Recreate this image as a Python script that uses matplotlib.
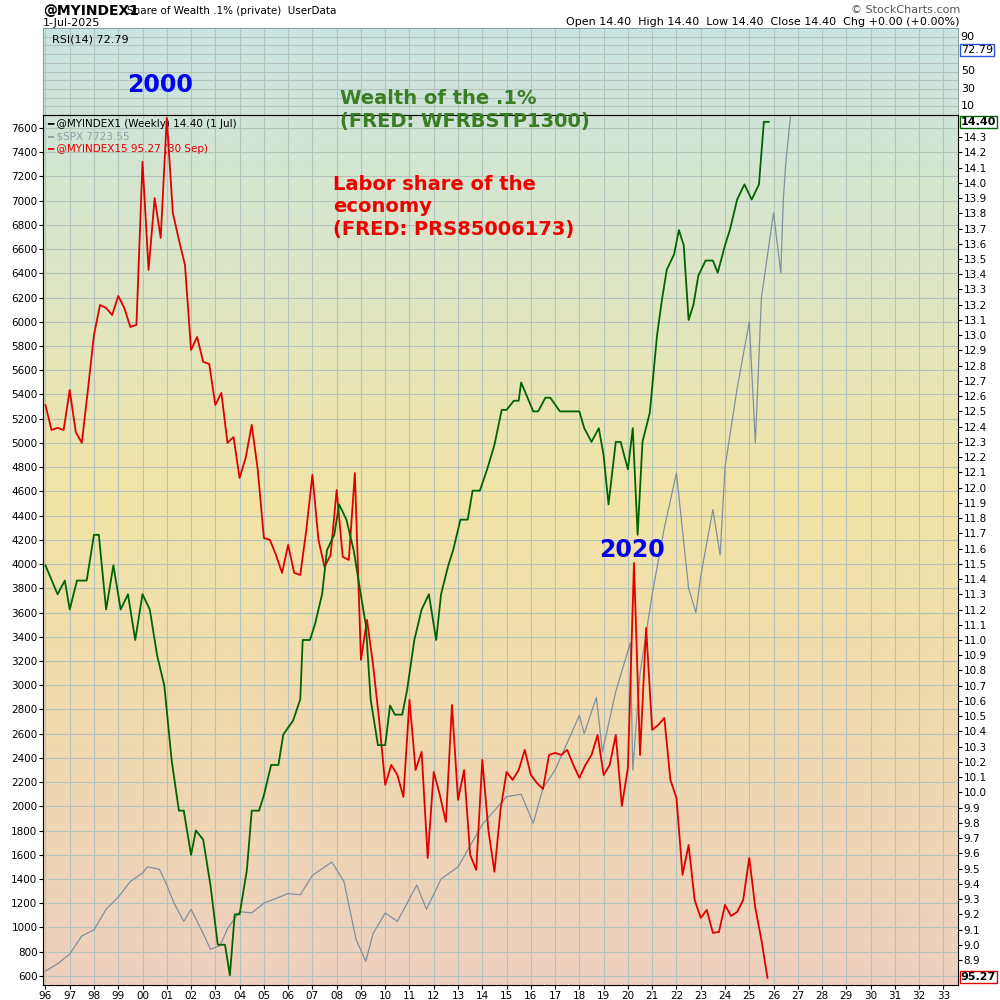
import matplotlib.pyplot as plt
import numpy as np
from matplotlib.colors import LinearSegmentedColormap

# Share of wealth held by top .1% (right axis, %)
wealth_t = [1996.0, 1996.5, 1996.8, 1997.0, 1997.3, 1997.7, 1998.0, 1998.2, 1998.5, 1998.8,
            1999.1, 1999.4, 1999.7, 2000.0, 2000.3, 2000.6, 2000.9, 2001.2, 2001.5, 2001.7,
            2002.0, 2002.2, 2002.5, 2002.8, 2003.1, 2003.4, 2003.6, 2003.8, 2004.0, 2004.3,
            2004.5, 2004.8, 2005.0, 2005.3, 2005.6, 2005.8, 2006.2, 2006.5, 2006.6, 2006.9,
            2007.1, 2007.4, 2007.6, 2007.9, 2008.1, 2008.4, 2008.7, 2008.9, 2009.2, 2009.4,
            2009.7, 2010.0, 2010.2, 2010.4, 2010.7, 2010.9, 2011.2, 2011.5, 2011.8, 2012.1,
            2012.3, 2012.6, 2012.8, 2013.1, 2013.4, 2013.6, 2013.9, 2014.2, 2014.5, 2014.8,
            2015.0, 2015.3, 2015.5, 2015.6, 2016.1, 2016.3, 2016.6, 2016.8, 2017.2, 2017.7,
            2018.0, 2018.2, 2018.5, 2018.8, 2019.0, 2019.2, 2019.5, 2019.7, 2020.0, 2020.2,
            2020.4, 2020.6, 2020.9, 2021.2, 2021.4, 2021.6, 2021.9, 2022.1, 2022.3, 2022.5,
            2022.7, 2022.9, 2023.2, 2023.5, 2023.7, 2024.0, 2024.2, 2024.5, 2024.8, 2025.1,
            2025.4, 2025.6, 2025.8]
wealth_v = [11.49, 11.30, 11.39, 11.20, 11.39, 11.39, 11.69, 11.69, 11.20, 11.49,
            11.20, 11.30, 11.00, 11.30, 11.20, 10.90, 10.70, 10.21, 9.88, 9.88,
            9.59, 9.75, 9.69, 9.39, 9.00, 9.00, 8.80, 9.20, 9.20, 9.49,
            9.88, 9.88, 9.98, 10.18, 10.18, 10.38, 10.47, 10.61, 11.00, 11.00,
            11.10, 11.30, 11.59, 11.69, 11.89, 11.79, 11.59, 11.39, 11.10, 10.61,
            10.31, 10.31, 10.57, 10.51, 10.51, 10.67, 11.00, 11.20, 11.30, 11.00,
            11.30, 11.49, 11.59, 11.79, 11.79, 11.98, 11.98, 12.12, 12.28, 12.51,
            12.51, 12.57, 12.57, 12.69, 12.50, 12.50, 12.59, 12.59, 12.50, 12.50,
            12.50, 12.39, 12.30, 12.39, 12.21, 11.89, 12.30, 12.30, 12.12, 12.39,
            11.69, 12.30, 12.49, 13.00, 13.23, 13.43, 13.53, 13.69, 13.59, 13.10,
            13.20, 13.39, 13.49, 13.49, 13.41, 13.59, 13.69, 13.89, 13.99, 13.89,
            13.99, 14.40, 14.40]

# S&P 500 (left axis)
spx_t = [1996.0, 1996.5, 1997.0, 1997.5, 1998.0, 1998.5, 1999.0, 1999.5, 2000.0, 2000.2,
         2000.7, 2001.0, 2001.3, 2001.7, 2002.0, 2002.5, 2002.8, 2003.2, 2003.5, 2004.0,
         2004.5, 2005.0, 2006.0, 2006.5, 2007.0, 2007.8, 2008.3, 2008.8, 2009.2, 2009.5,
         2010.0, 2010.5, 2011.3, 2011.7, 2012.3, 2013.0, 2014.0, 2015.0, 2015.6, 2016.1,
         2016.5, 2017.0, 2018.0, 2018.2, 2018.7, 2018.95, 2019.5, 2020.1, 2020.2, 2020.5,
         2021.0, 2021.5, 2022.0, 2022.5, 2022.8, 2023.0, 2023.5, 2023.8, 2024.0, 2024.5,
         2025.0, 2025.25, 2025.5, 2026.0, 2026.3, 2026.4, 2026.5, 2026.7]
spx_v = [640, 700, 780, 930, 980, 1150, 1250, 1380, 1450, 1500,
         1480, 1350, 1200, 1050, 1150, 950, 820, 850, 990, 1130,
         1120, 1200, 1280, 1270, 1430, 1540, 1380, 900, 720, 950,
         1120, 1050, 1350, 1150, 1400, 1500, 1850, 2080, 2100, 1860,
         2150, 2300, 2750, 2600, 2900, 2450, 2950, 3350, 2300, 3100,
         3750, 4300, 4750, 3800, 3600, 3900, 4450, 4075, 4800, 5450,
         6000, 5000, 6200, 6900, 6400, 7000, 7300, 7700]

# Labor share of the economy (quarterly, drawn on hidden axis with left scale)
labor_start = 1996.0
labor_v = [5313, 5107, 5124, 5107, 5437, 5090, 5000, 5437, 5891, 6139,
           6114, 6056, 6213, 6114, 5957, 5974, 7320, 6428, 7022, 6692,
           7683, 6898, 6676, 6469, 5768, 5875, 5669, 5652, 5313, 5413,
           5000, 5049, 4711, 4876, 5149, 4777, 4216, 4199, 4075, 3927,
           4158, 3927, 3910, 4282, 4736, 4199, 3976, 4075, 4612, 4059,
           4034, 4752, 3209, 3539, 3167, 2713, 2177, 2342, 2259, 2078,
           2878, 2300, 2449, 1574, 2284, 2094, 1871, 2837, 2053, 2300,
           1599, 1475, 2383, 1805, 1459, 1970, 2284, 2218, 2300, 2466,
           2259, 2193, 2143, 2424, 2441, 2424, 2466, 2342, 2235, 2342,
           2424, 2589, 2259, 2342, 2589, 2003, 2317, 4009, 2424, 3473,
           2631, 2672, 2730, 2218, 2069, 1434, 1681, 1227, 1079, 1145,
           955, 963, 1186, 1095, 1128, 1227, 1574, 1161, 897, 584]
labor_t = labor_start + 0.25 * np.arange(len(labor_v))

left_ticks = list(range(600, 7601, 200))
right_ticks = np.round(np.arange(8.9, 14.35, 0.1), 1)
year_ticks = list(range(1996, 2034))

fig = plt.figure(figsize=[10, 10], dpi=100)

# background gradient
bg = fig.add_axes([0, 0, 1, 1], zorder=-10)
cmap = LinearSegmentedColormap.from_list("bg", ["#c6e4e6", "#dbe6c8", "#f2e4a6", "#f0d8b0", "#eecfbf"])
bg.imshow(np.linspace(0, 1, 256)[:, None], aspect="auto", cmap=cmap, extent=[0, 1, 0, 1])
bg.set_xlim(0, 1); bg.set_ylim(0, 1)
bg.axis("off")
bg.add_patch(plt.Rectangle((0, 0.972), 1, 0.03, color="white"))
bg.add_patch(plt.Rectangle((0, 0), 0.043, 0.972, color="white"))
bg.add_patch(plt.Rectangle((0.958, 0), 0.05, 0.972, color="white"))
bg.add_patch(plt.Rectangle((0, 0), 1, 0.015, color="white"))

gridc = "#b4c4bc"

# RSI panel (empty grid)
rsi = fig.add_axes([0.043, 0.885, 0.915, 0.087])
rsi.patch.set_alpha(0)
rsi.set_xlim(1995.9, 2033.6)
rsi.set_ylim(0, 100)
rsi.set_xticks(year_ticks)
rsi.set_yticks([10, 20, 30, 40, 50, 60, 70, 80, 90])
rsi.grid(True, color=gridc, lw=0.8)
rsi.tick_params(labelbottom=False, labelleft=False, length=0)
rsi.yaxis.tick_right()
for s in rsi.spines.values():
    s.set_color("#8aa0a0")
for v in [90, 50, 30, 10]:
    rsi.text(1.003, v / 100, str(v), transform=rsi.transAxes, fontsize=8, va="center")
rsi.text(1.003, 0.75, "72.79", transform=rsi.transAxes, fontsize=8, va="center",
         bbox=dict(boxstyle="square,pad=0.1", fc="white", ec="#3050e0"))
rsi.text(0.01, 0.93, "RSI(14) 72.79", transform=rsi.transAxes, fontsize=8, va="top")

# main panel
ax = fig.add_axes([0.043, 0.015, 0.915, 0.87])
ax.patch.set_alpha(0)
ax.set_xlim(1995.9, 2033.6)
ax.set_ylim(525, 7707)
ax.set_xticks(year_ticks)
ax.set_xticklabels([f"{y % 100:02d}" for y in year_ticks], fontsize=7.5)
ax.set_yticks(left_ticks)
ax.set_yticklabels([str(v) for v in left_ticks], fontsize=7.5)
ax.grid(True, color=gridc, lw=0.8)
ax.tick_params(length=3, pad=1)
for s in ax.spines.values():
    s.set_color("#8aa0a0")
ax.plot(spx_t, spx_v, color="#8090a0", lw=0.9)

lab = ax.twinx()
lab.set_ylim(525, 7707)
lab.axis("off")
lab.plot(labor_t, labor_v, color="#e00000", lw=1.3)

wax = ax.twinx()
wax.set_ylim(8.736, 14.445)
wax.set_yticks(right_ticks)
wax.set_yticklabels([f"{v:.1f}" for v in right_ticks], fontsize=7.5)
wax.tick_params(length=3, pad=1)
wax.plot(wealth_t, wealth_v, color="#006400", lw=1.3)
wax.text(1.003, (14.40 - 8.736) / (14.445 - 8.736), "14.40", transform=wax.transAxes,
         fontsize=8, fontweight="bold", va="center",
         bbox=dict(boxstyle="square,pad=0.1", fc="white", ec="#006400"))
wax.text(1.003, (8.79 - 8.736) / (14.445 - 8.736), "95.27", transform=wax.transAxes,
         fontsize=8, fontweight="bold", va="center",
         bbox=dict(boxstyle="square,pad=0.1", fc="white", ec="#e00000"))

# legend text
ax.text(0.005, 0.995, "━ @MYINDEX1 (Weekly) 14.40 (1 Jul)", transform=ax.transAxes,
        fontsize=7.5, va="top", color="black")
ax.text(0.005, 0.981, "━ $SPX 7723.55", transform=ax.transAxes, fontsize=7.5, va="top", color="#90a0a8")
ax.text(0.005, 0.967, "━ @MYINDEX15 95.27 (30 Sep)", transform=ax.transAxes, fontsize=7.5, va="top", color="#e00000")

# header
fig.text(0.043, 0.989, "@MYINDEX1", fontsize=10, fontweight="bold", va="center")
fig.text(0.127, 0.989, "Share of Wealth .1% (private)  UserData", fontsize=7.5, va="center")
fig.text(0.043, 0.977, "1-Jul-2025", fontsize=8, va="center")
fig.text(0.96, 0.99, "© StockCharts.com", fontsize=8, color="#555555", ha="right", va="center")
fig.text(0.96, 0.978, "Open 14.40  High 14.40  Low 14.40  Close 14.40  Chg +0.00 (+0.00%)",
         fontsize=8, ha="right", va="center")

# annotations
fig.text(0.16, 0.915, "2000", fontsize=17, fontweight="bold", color="#0000ee", ha="center", va="center")
fig.text(0.34, 0.89, "Wealth of the .1%\n(FRED: WFRBSTP1300)", fontsize=14, fontweight="bold",
         color="#3a7d22", va="center", linespacing=1.2)
fig.text(0.333, 0.793, "Labor share of the\neconomy\n(FRED: PRS85006173)", fontsize=14,
         fontweight="semibold", color="#ee0000", va="center", linespacing=1.25)
fig.text(0.632, 0.45, "2020", fontsize=17, fontweight="bold", color="#0000ee", ha="center", va="center")

fig.savefig("out.png", dpi=100)
